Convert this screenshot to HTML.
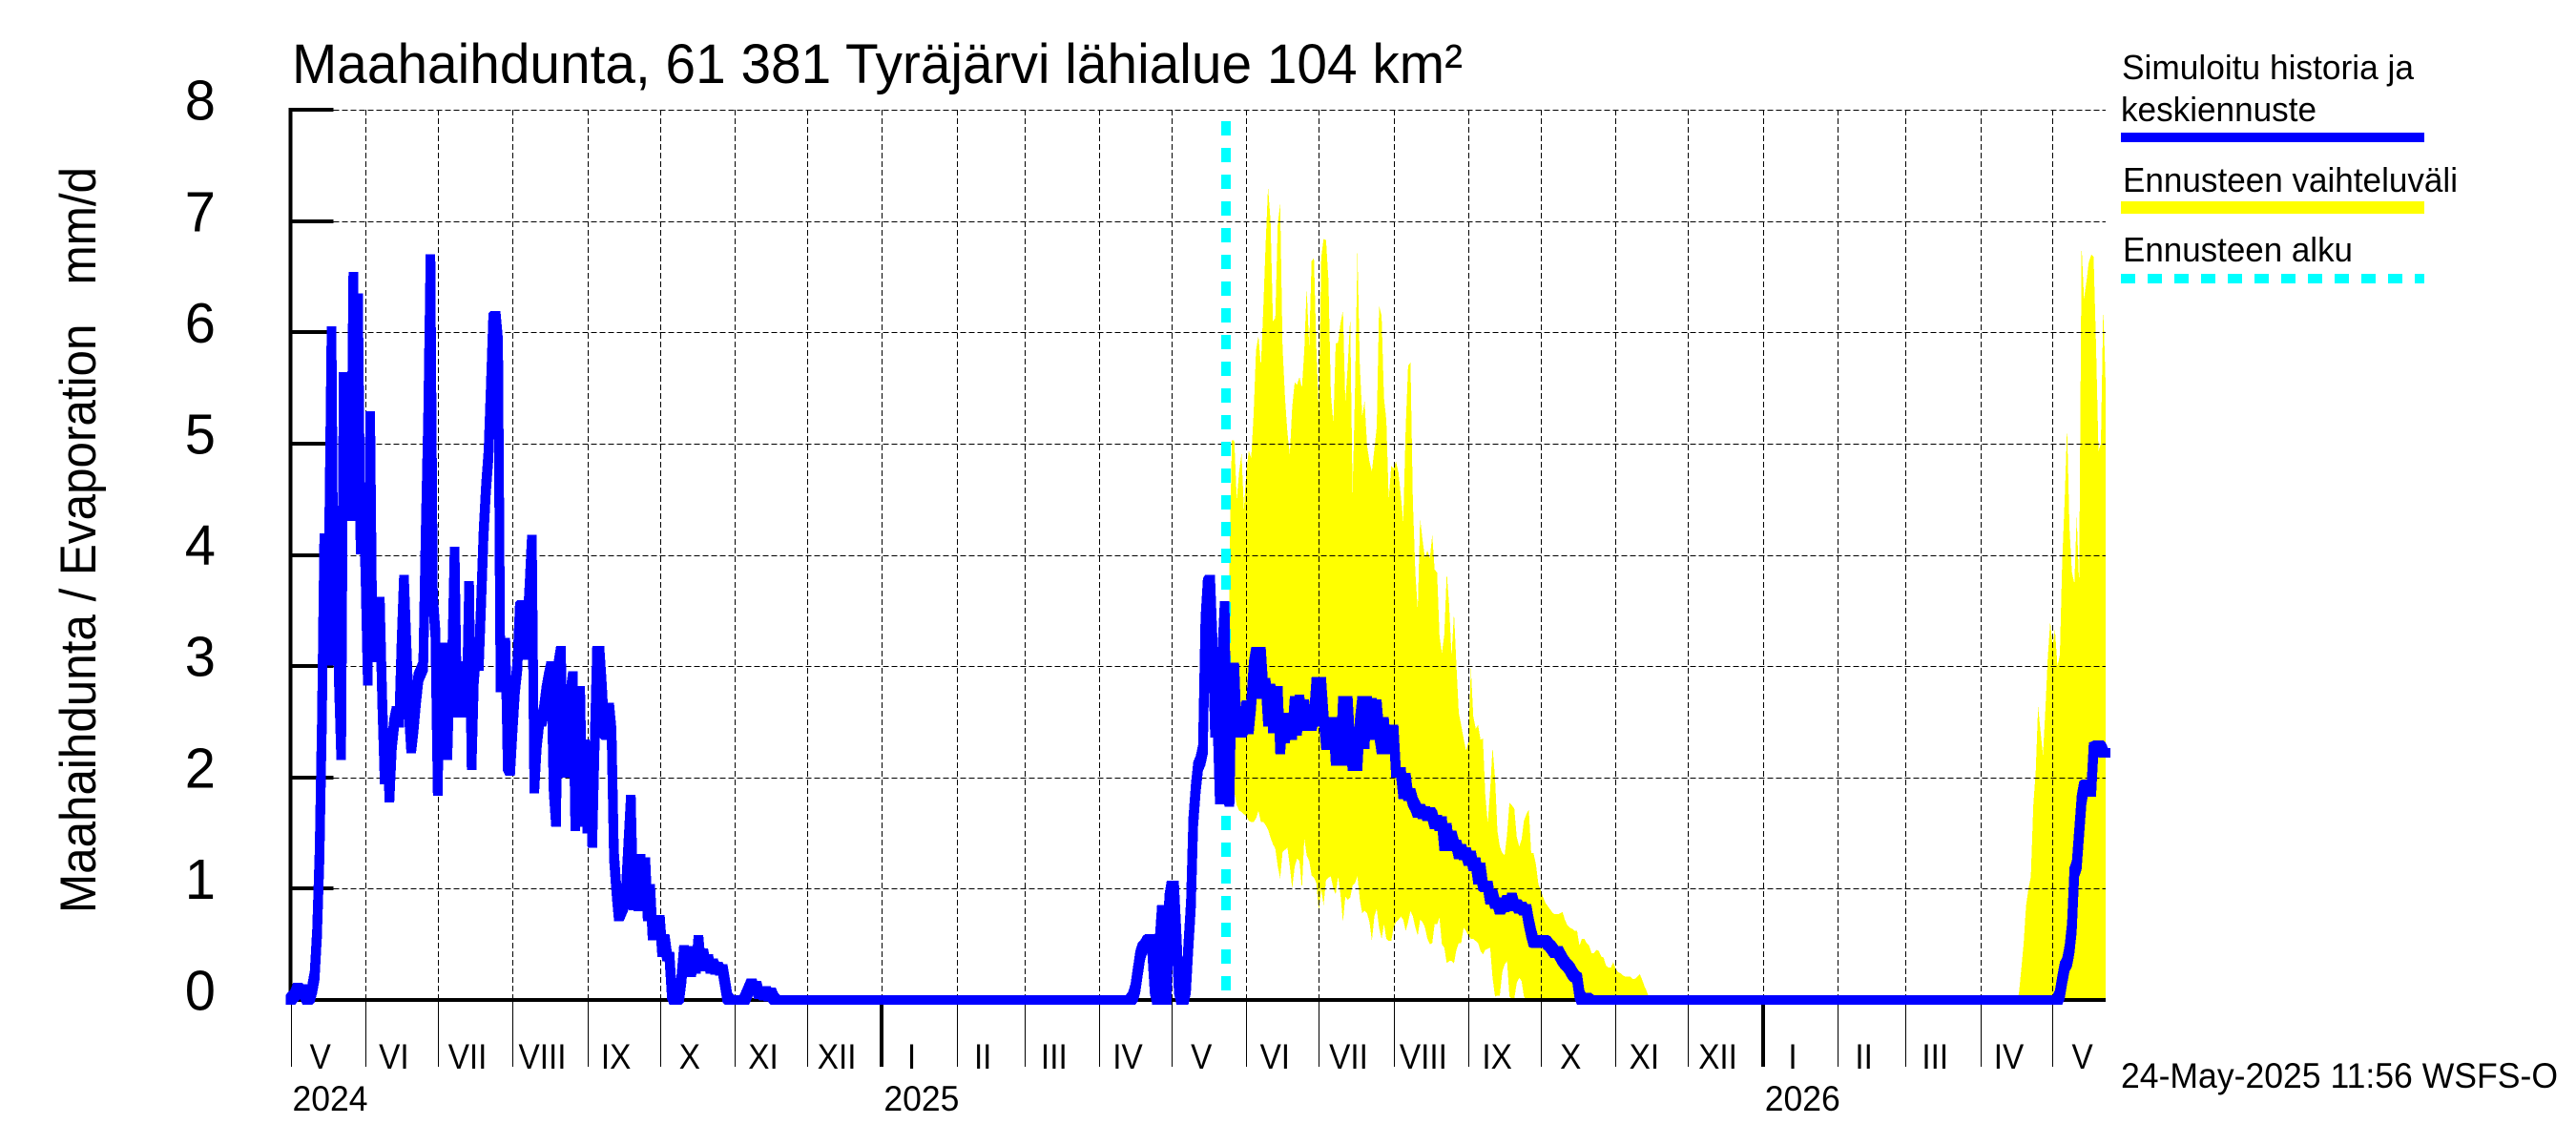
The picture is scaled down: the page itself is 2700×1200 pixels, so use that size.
<!DOCTYPE html>
<html lang="fi">
<head>
<meta charset="utf-8">
<title>Maahaihdunta, 61 381 Tyräjärvi lähialue 104 km²</title>
<style>
html,body{margin:0;padding:0;background:#fff;}
svg{display:block;}
text{font-family:"Liberation Sans",sans-serif;fill:#000;white-space:pre;}
</style>
</head>
<body>
<svg id="chart" xmlns="http://www.w3.org/2000/svg" width="2700" height="1200" viewBox="0 0 2700 1200">
  <rect x="0" y="0" width="2700" height="1200" fill="#fff"/>
  <g id="band-layer"></g>
  <g id="grid-layer"></g>
  <g id="axis-layer"></g>
  <g id="marker-layer"></g>
  <g id="line-layer"></g>
  <text x="306" y="87" font-size="58" textLength="1227" lengthAdjust="spacingAndGlyphs">Maahaihdunta, 61 381 Tyräjärvi lähialue 104 km²</text>
  <text x="100" y="957" font-size="53" textLength="782" lengthAdjust="spacingAndGlyphs" transform="rotate(-90 100 957)">Maahaihdunta / Evaporation   mm/d</text>
  <g>
    <text x="2224" y="83" font-size="36" textLength="306" lengthAdjust="spacingAndGlyphs">Simuloitu historia ja</text>
    <text x="2223" y="127" font-size="36" textLength="205" lengthAdjust="spacingAndGlyphs">keskiennuste</text>
    <rect x="2223" y="139" width="318" height="10" fill="#0000ff"/>
    <text x="2225" y="201" font-size="36" textLength="351" lengthAdjust="spacingAndGlyphs">Ennusteen vaihteluväli</text>
    <rect x="2223" y="211" width="318" height="13" fill="#ffff00"/>
    <text x="2225" y="274" font-size="36" textLength="241" lengthAdjust="spacingAndGlyphs">Ennusteen alku</text>
    <line x1="2223" y1="292" x2="2541" y2="292" stroke="#00ffff" stroke-width="10" stroke-dasharray="15 13"/>
  </g>
  <text x="2223" y="1140" font-size="37" textLength="458" lengthAdjust="spacingAndGlyphs">24-May-2025 11:56 WSFS-O</text>
</svg>
<script>
// ---- categories and tick labels ----
const yTickLabels = [0, 1, 2, 3, 4, 5, 6, 7, 8];
const monthLabels = ['V','VI','VII','VIII','IX','X','XI','XII','I','II','III','IV','V','VI','VII','VIII','IX','X','XI','XII','I','II','III','IV','V'];
const monthLengths = [31,30,31,31,30,31,30,31,31,28,31,30,31,30,31,31,30,31,30,31,31,28,31,30,31];
const yearLabels = ['2024', '2025', '2026'];
const yearMonthIndex = [0, 8, 20];
const lastDay = 752;
const forecastStartDay = 388;

// ---- simulated line (mm/d), one value per day; first array starts 2024-05-01 (day 0) ----
const simStart2024 = 0;
const simValues2024 = [
 0,.03,.05,.11,.08,.1,.05,0,.02,.1,
 .22,.6,1.3,2.5,4.15,3.05,4.2,6.01,3.05,4.4,
 2.9,2.2,5.6,4.35,5.6,4.35,6.5,4.4,6.31,4.05,
 4.55,3.9,2.87,5.25,3.08,3.5,3.08,3.58,2.7,1.98,
 2.4,1.82,2.3,2.5,2.6,2.49,3.2,3.78,3.2,2.6,
 2.26,2.45,2.7,2.9,2.95,3.0,4.2,5.2,6.66,3.6,
 3.3,1.88,3.17,2.4,3.17,2.2,3.0,3.1,4.03,2.58,
 3.0,2.58,3.0,2.69,3.72,2.11,2.9,3.15,3.0,3.6,
 4.2,4.6,4.9,5.5,6.13,6.15,5.9,2.81,2.9,3.21,
 2.1,2.06,2.45,2.8,3.0,3.53,3.55,3.1,3.3,3.7,
 4.14,1.9,2.3,2.5,2.5,2.6,2.78,2.9,3.0,1.9,
 1.6,3.0,3.14,2.04,2.6,2.04,2.75,2.91,1.56,2.78,
 2.78,1.6,2.3,1.54,2.28,1.41,2.3,3.14,3.14,2.8,
 2.4,2.38,2.63,2.4,1.3,1.0,.75,.8,.85,1.0,
 1.4,1.8,.85,1.27,.84,1.27,.85,1.24,.75,1.0,
 .58,.72,.6,.72,.43,.55,.39,.39,.05,0,
 0,.02,.2,.45,.28,.44,.25,.4,.28,.54,
 .3,.42,.3,.37,.28,.33,.27,.3,.26,.28,
 .15,.02,0,0,0,0,0,0,0,.05,
 .1,.15,.1,.13,.05,.08,.04,.08,.03,.07,
 .02,0
];
// starts at day 340 (2025-04-06); forecast mean continues from day 388
const simStart2025 = 340;
const simValues2025 = [
 0,0,0,0,0,0,0,0,0,.03,
 .1,.25,.4,.47,.49,.53,.55,.45,.1,0,
 .5,.81,.3,0,.9,1.03,1.03,.6,.1,0,
 0,.1,.5,.85,1.6,1.9,2.1,2.15,2.25,3.4,
 3.75,3.78,3.2,2.4,2.55,1.8,3.1,3.54,1.85,1.78,
 2.99,2.99,2.4,2.55,2.4,2.45,2.65,2.43,2.65,3.0,
 3.13,2.75,3.13,2.8,2.85,2.5,2.8,2.44,2.7,2.78,
 2.25,2.5,2.35,2.54,2.38,2.38,2.69,2.42,2.7,2.46,
 2.66,2.46,2.58,2.46,2.55,2.86,2.5,2.86,2.55,2.29,
 2.5,2.29,2.5,2.15,2.5,2.15,2.69,2.15,2.69,2.3,
 2.1,2.14,2.1,2.5,2.69,2.3,2.69,2.38,2.67,2.38,
 2.66,2.4,2.25,2.5,2.25,2.43,2.25,2.43,2.04,2.05,
 2.05,1.85,2.0,1.83,1.86,1.78,1.74,1.68,1.72,1.67,
 1.7,1.65,1.69,1.66,1.58,1.62,1.56,1.61,1.38,1.55,
 1.38,1.48,1.4,1.4,1.31,1.36,1.3,1.33,1.25,1.3,
 1.2,1.24,1.08,1.19,1.03,1.01,1.03,.9,.95,.86,
 .88,.81,.84,.83,.9,.84,.92,.84,.86,.82,
 .84,.8,.82,.7,.6,.52,.51,.52,.53,.54,
 .53,.5,.48,.45,.42,.44,.4,.36,.33,.31,
 .28,.24,.21,.2,.05,0,0,.02
];
// starts at day 730
const simStart2026 = 730;
const simValues2026 = [
 0,0,0,.05,.18,.3,.34,.45,.65,1.15,
 1.21,1.5,1.8,1.92,1.94,1.9,1.87,2.27,2.28,2.29,
 2.27,2.22,2.22
];

// ---- forecast range (mm/d), one value per day; starts at day 389 ----
const bandStart2025 = 389;
const bandUpper2025 = [
 4.0,
 5.03,5.03,4.5,4.75,4.91,4.41,4.75,4.94,4.87,5.27,
 5.84,5.97,5.7,6.21,6.8,7.31,7.0,6.1,6.13,6.98,
 7.15,5.87,5.41,5.1,4.9,5.33,5.55,5.53,5.6,5.5,
 5.84,6.4,5.87,6.64,6.67,5.84,5.27,6.67,6.84,6.83,
 6.47,5.45,5.18,5.9,5.91,6.08,6.2,5.37,5.7,6.13,
 4.54,5.47,6.73,5.7,5.25,5.38,4.98,4.84,4.75,4.95,
 5.15,6.24,6.15,5.41,5.21,4.5,4.8,4.78,4.84,4.74,
 4.53,4.3,5.15,5.7,5.73,4.47,3.84,3.5,4.33,4.13,
 3.97,4.04,3.97,4.18,3.87,3.84,3.27,3.12,3.28,3.84,
 3.55,3.09,3.48,3.01,2.58,2.47,2.35,2.24,2.32,2.99,
 2.55,2.44,2.47,2.34,2.35,1.84,1.59,1.89,2.27,2.0,
 1.52,1.38,1.32,1.3,1.49,1.77,1.75,1.72,1.47,1.38,
 1.44,1.61,1.67,1.71,1.32,1.32,1.21,1.04,.98,.92,
 .87,.84,.81,.78,.77,.77,.78,.79,.72,.67,
 .65,.64,.62,.62,.49,.55,.55,.51,.49,.42,
 .42,.45,.44,.39,.38,.31,.29,.29,.34,.28,
 .25,.24,.22,.21,.21,.21,.19,.19,.21,.23,
 .18,.12,.07,0
];
const bandLower2025 = [
 2.0,
 2.0,1.87,1.75,1.7,1.69,1.67,1.65,1.61,1.6,1.6,
 1.63,1.7,1.6,1.6,1.57,1.53,1.46,1.4,1.36,1.2,
 1.09,1.33,1.35,1.37,1.2,1.0,1.2,1.27,1.25,1.0,
 1.45,1.3,1.25,1.12,1.1,1.05,.8,1.0,.85,1.08,
 1.1,1.11,1.0,.95,1.11,.95,.7,.93,.9,.92,
 1.03,1.05,1.11,.9,.78,.8,.78,.7,.53,.75,
 .82,.65,.55,.68,.55,.53,.53,.65,.7,.72,
 .75,.72,.62,.7,.8,.75,.65,.58,.72,.7,
 .65,.55,.5,.51,.68,.68,.74,.5,.47,.33,
 .35,.35,.33,.45,.51,.51,.65,.62,.58,.55,
 .55,.53,.51,.44,.41,.45,.46,.47,.2,.03,
 .04,.04,.25,.32,.35,.03,.01,.01,.15,.2,
 .17,.03,0,0,0,0,0,0,0,0,
 0,0,0,0,0,0,0,0,0,0,
 0,0,0,0,0,0,0,0,0,0,
 0,0,0,0,0,0,0,0,0,0,
 0,0,0,0,0,0,0,0,0,0,
 0,0,0,0
];
// starts at day 710; lower edge of this range stays at zero
const bandStart2026 = 710;
const bandUpper2026 = [
 0,0,0,0,0,0,.05,.27,.5,.85,
 1.0,1.11,1.75,2.05,2.64,2.41,2.2,2.6,3.07,3.4,
 3.18,3.33,3.0,3.1,3.95,4.5,5.15,4.24,3.85,3.74,
 4.35,3.73,6.78,6.3,6.45,6.63,6.7,6.68,5.9,4.93,
 5.0,6.23,5.5
];

// ---- axis functions ----
const plotLeft = 304.5, pxPerDay = 2.53, zeroY = 1048, pxPerUnit = 116.6;
function xScale(day){ return plotLeft + pxPerDay * day; }
function yScale(v){ return zeroY - pxPerUnit * v; }

const NS = 'http://www.w3.org/2000/svg';
function mk(tag, parent, attrs){
  const el = document.createElementNS(NS, tag);
  for (const k in attrs) el.setAttribute(k, attrs[k]);
  parent.appendChild(el);
  return el;
}
function snap(x){ return Math.round(x) + 0.5; }
function squeeze(el, factor){
  el.setAttribute('textLength', (el.getComputedTextLength() * factor).toFixed(1));
  el.setAttribute('lengthAdjust', 'spacingAndGlyphs');
}

const bandLayer = document.getElementById('band-layer');
const gridLayer = document.getElementById('grid-layer');
const axisLayer = document.getElementById('axis-layer');
const markerLayer = document.getElementById('marker-layer');
const lineLayer = document.getElementById('line-layer');

// month boundaries from month lengths
const monthStarts = [];
let dayCursor = 0;
monthLengths.forEach(function(n){ monthStarts.push(dayCursor); dayCursor += n; });

// forecast range
function bandPath(start, upper, lower){
  const top = upper.map(function(v, i){ return xScale(start + i).toFixed(1) + ' ' + yScale(v).toFixed(1); });
  const bottom = upper.map(function(v, i){ return xScale(start + i).toFixed(1) + ' ' + yScale(lower ? lower[i] : 0).toFixed(1); }).reverse();
  return 'M' + top.join('L') + 'L' + bottom.join('L') + 'Z';
}
const band2025 = mk('path', bandLayer, {d: bandPath(bandStart2025, bandUpper2025, bandLower2025), fill: '#ffff00', 'shape-rendering': 'crispEdges'});


const band2026 = mk('path', bandLayer, {d: bandPath(bandStart2026, bandUpper2026, null), fill: '#ffff00', 'shape-rendering': 'crispEdges'});



// horizontal grid and y ticks
yTickLabels.forEach(function(v){
  const y = yScale(v);
  if (v > 0) {
    const g = mk('line', gridLayer, {x1: plotLeft, x2: xScale(lastDay), y1: snap(y), y2: snap(y), stroke: '#000', 'stroke-width': 1, 'stroke-dasharray': '6 3', 'shape-rendering': 'crispEdges'});
    
    
    const t = mk('rect', axisLayer, {x: plotLeft - 2, y: Math.round(y) - 2, width: 47, height: 4, fill: '#000'});
    
    
  }
  const lab = mk('text', axisLayer, {x: 226, y: y + 10.5, 'font-size': 59, 'text-anchor': 'end'});
  lab.textContent = String(v);
  
  
  squeeze(lab, 0.98);
});

// vertical grid, month ticks and labels
monthStarts.forEach(function(start, i){
  const x = xScale(start);
  if (i > 0) {
    const g = mk('line', gridLayer, {x1: snap(x), x2: snap(x), y1: yScale(8), y2: zeroY, stroke: '#000', 'stroke-width': 1, 'stroke-dasharray': '6 3', 'shape-rendering': 'crispEdges'});
    
    
  }
  const t = mk('line', axisLayer, {x1: snap(x), x2: snap(x), y1: zeroY, y2: 1118, stroke: '#000', 'stroke-width': 1, 'shape-rendering': 'crispEdges'});
  
  
  const lab = mk('text', axisLayer, {x: xScale(start + monthLengths[i] / 2) - 8, y: 1120, 'font-size': 37, 'text-anchor': 'middle'});
  lab.textContent = monthLabels[i];
  
  
  squeeze(lab, 0.9);
});

// year ticks and labels
yearLabels.forEach(function(label, i){
  const x = xScale(monthStarts[yearMonthIndex[i]]);
  if (i > 0) {
    const t = mk('rect', axisLayer, {x: Math.round(x) - 2, y: zeroY, width: 4, height: 70, fill: '#000'});
    
    
  }
  const lab = mk('text', axisLayer, {x: x + 2, y: 1164, 'font-size': 37});
  lab.textContent = label;
  
  
  squeeze(lab, 0.96);
});

// axis lines
const yAxisLine = mk('rect', axisLayer, {x: plotLeft - 2, y: yScale(8) - 2, width: 4, height: zeroY - yScale(8) + 4, fill: '#000'});


const xAxisLine = mk('rect', axisLayer, {x: plotLeft - 2, y: zeroY - 2, width: xScale(lastDay) - plotLeft + 2, height: 4, fill: '#000'});



// forecast start marker
const marker = mk('line', markerLayer, {x1: xScale(forecastStartDay) - 1, x2: xScale(forecastStartDay) - 1, y1: 127, y2: 1047, stroke: '#00ffff', 'stroke-width': 10, 'stroke-dasharray': '15 13', 'shape-rendering': 'crispEdges'});



// simulated line: swept with a square pen, like the source plot
const simDaily = new Array(lastDay + 1).fill(0);
simValues2024.forEach(function(v, i){ simDaily[simStart2024 + i] = v; });
simValues2025.forEach(function(v, i){ simDaily[simStart2025 + i] = v; });
simValues2026.forEach(function(v, i){ simDaily[simStart2026 + i] = v; });
const pen = 5;
let simPath = '';
for (let i = 0; i < simDaily.length - 1; i++) {
  const x0 = xScale(i), y0 = yScale(simDaily[i]), x1 = xScale(i + 1), y1 = yScale(simDaily[i + 1]);
  const pts = (y1 < y0)
    ? [[x0-pen,y0+pen],[x0-pen,y0-pen],[x1-pen,y1-pen],[x1+pen,y1-pen],[x1+pen,y1+pen],[x0+pen,y0+pen]]
    : [[x0-pen,y0-pen],[x0+pen,y0-pen],[x1+pen,y1-pen],[x1+pen,y1+pen],[x1-pen,y1+pen],[x0-pen,y0+pen]];
  simPath += 'M' + pts.map(function(p){ return p[0].toFixed(1) + ' ' + p[1].toFixed(1); }).join('L') + 'Z';
}
const simLine = mk('path', lineLayer, {d: simPath, fill: '#0000ff', 'shape-rendering': 'crispEdges'});


</script>
</body>
</html>
